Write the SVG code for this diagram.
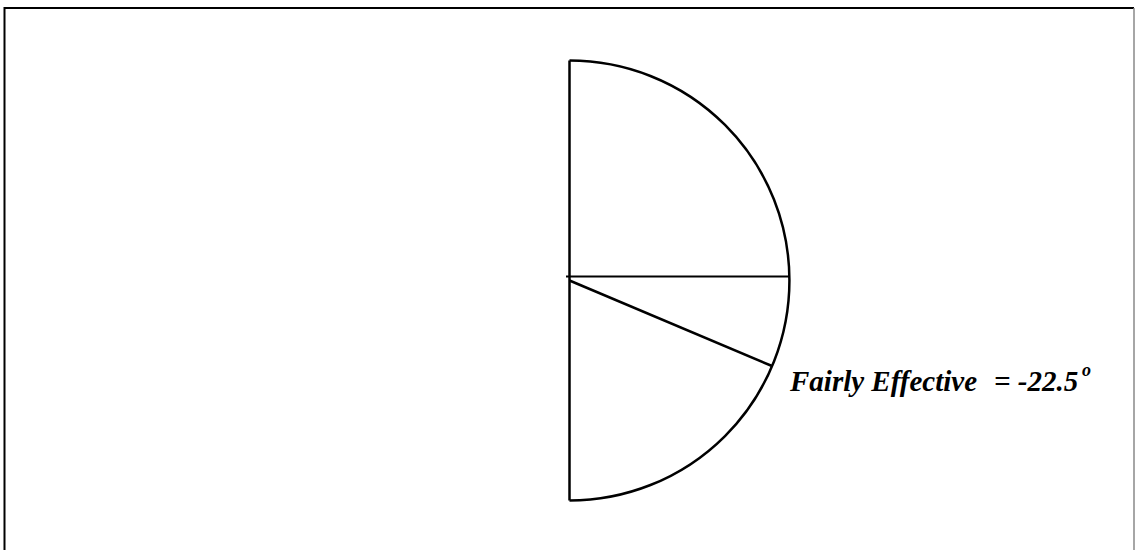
<svg xmlns="http://www.w3.org/2000/svg" width="1135" height="550" viewBox="0 0 1135 550">
<style>
.ln{fill:none;stroke:#000;stroke-width:2.5}
.lbl{font-family:"Liberation Serif","Times New Roman",serif;font-weight:bold;font-style:italic;font-size:29px;fill:#000}
.sup{font-size:18px}
</style>
<rect width="1135" height="550" fill="#fff"/>
<g id="frame">
<path d="M4.5 550 V8 H1134" fill="none" stroke="#000" stroke-width="2"/>
<path d="M1134 8 V550" fill="none" stroke="#888" stroke-width="1.5"/>
</g>
<g id="semicircle">
<path class="ln" d="M569.5 60.5 V500.5"/>
<path class="ln" d="M569.5 60.5 A220 220 0 0 1 569.5 500.5"/>
</g>
<g id="connectors">
<path d="M566 276.5 H790" fill="none" stroke="#000" stroke-width="2"/>
<path class="ln" d="M569.5 280.5 L772 366"/>
</g>
<g id="label">
<text class="lbl" x="790" y="391">Fairly Effective<tspan x="994">= -22.5</tspan></text>
<text class="lbl sup" x="1082" y="376">o</text>
</g>
</svg>
